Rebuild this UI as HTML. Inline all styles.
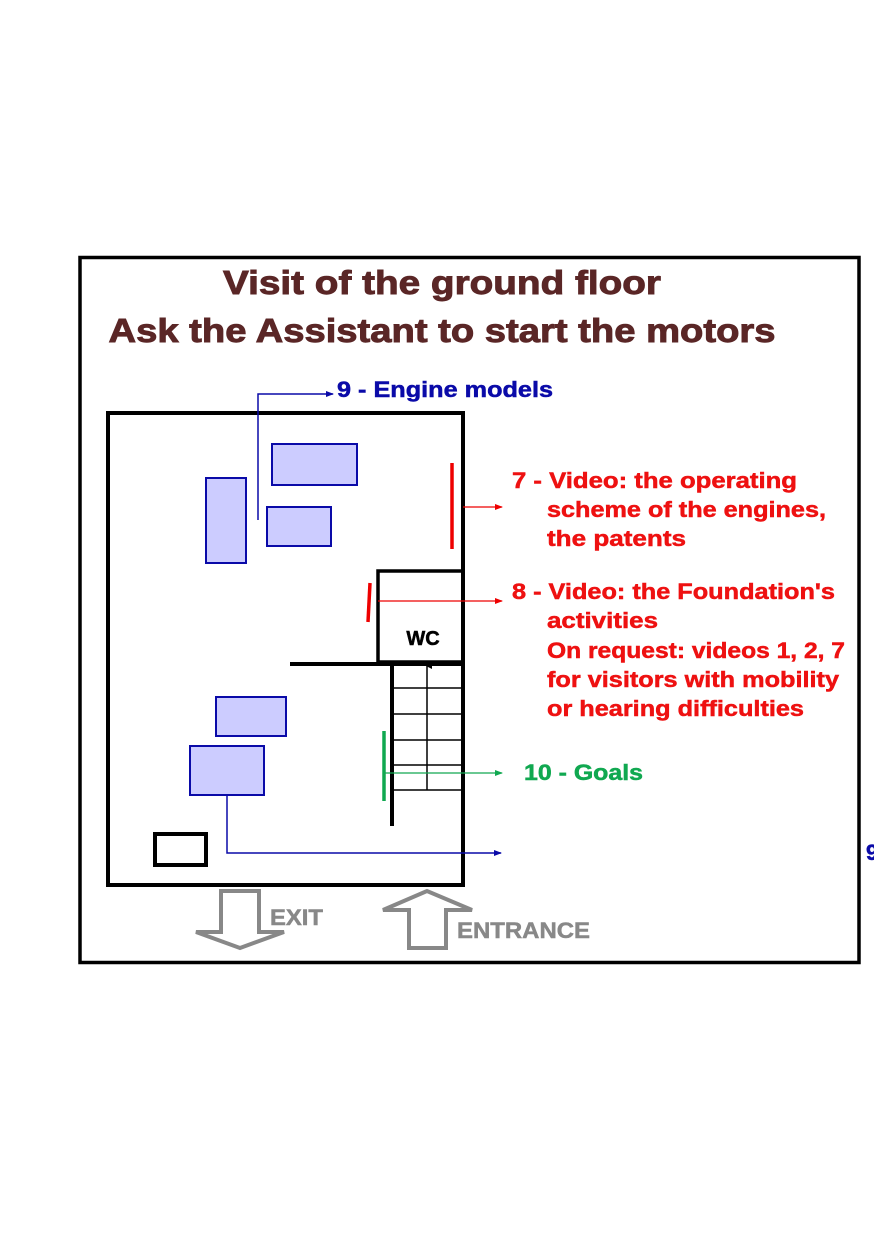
<!DOCTYPE html>
<html><head><meta charset="utf-8"><style>
html,body{margin:0;padding:0;background:#fff;}
svg{display:block;}
text{font-family:"Liberation Sans",sans-serif;font-weight:bold;}
</style></head><body>
<svg width="874" height="1240" viewBox="0 0 874 1240" xmlns="http://www.w3.org/2000/svg">
<defs>
<marker id="ar" markerWidth="8" markerHeight="6" refX="7" refY="3" orient="auto" markerUnits="userSpaceOnUse"><path d="M0,0 L8,3 L0,6 z" fill="#e00"/></marker>
<marker id="ab" markerWidth="8" markerHeight="6" refX="7" refY="3" orient="auto" markerUnits="userSpaceOnUse"><path d="M0,0 L8,3 L0,6 z" fill="#0a0aa8"/></marker>
<marker id="ag" markerWidth="8" markerHeight="6" refX="7" refY="3" orient="auto" markerUnits="userSpaceOnUse"><path d="M0,0 L8,3 L0,6 z" fill="#10a850"/></marker>
<marker id="ak" markerWidth="6" markerHeight="6" refX="3" refY="1" orient="auto" markerUnits="userSpaceOnUse"><path d="M0,6 L3,0 L6,6 z" fill="#000"/></marker>
</defs>
<rect x="80" y="257.5" width="779" height="705" fill="none" stroke="#000" stroke-width="3.5"/>
<g fill="#5a2626" stroke="#5a2626" stroke-width="0.9">
<text x="442" y="294" font-size="33" text-anchor="middle" textLength="438" lengthAdjust="spacingAndGlyphs">Visit of the ground floor</text>
<text x="442" y="342" font-size="33" text-anchor="middle" textLength="667" lengthAdjust="spacingAndGlyphs">Ask the Assistant to start the motors</text>
</g>
<rect x="108" y="413" width="355" height="472" fill="none" stroke="#000" stroke-width="4"/>
<g fill="#ccccff" stroke="#0a0aa8" stroke-width="2">
<rect x="206" y="478" width="40" height="85"/>
<rect x="272" y="444" width="85" height="41"/>
<rect x="267" y="507" width="64" height="39"/>
<rect x="216" y="697" width="70" height="39"/>
<rect x="190" y="746" width="74" height="49"/>
</g>
<rect x="155" y="834" width="51" height="31" fill="none" stroke="#000" stroke-width="4"/>
<rect x="378" y="571" width="85" height="91" fill="none" stroke="#000" stroke-width="3.5"/>
<text x="423" y="645" font-size="20" text-anchor="middle" fill="#000" stroke="#000" stroke-width="0.5">WC</text>
<line x1="290" y1="664" x2="463" y2="664" stroke="#000" stroke-width="4"/>
<line x1="392" y1="664" x2="392" y2="826" stroke="#000" stroke-width="4"/>
<g stroke="#000" stroke-width="1.5">
<line x1="392" y1="688" x2="463" y2="688"/>
<line x1="392" y1="714" x2="463" y2="714"/>
<line x1="392" y1="740" x2="463" y2="740"/>
<line x1="392" y1="765" x2="463" y2="765"/>
<line x1="392" y1="790" x2="463" y2="790"/>
<line x1="427" y1="790" x2="427" y2="666" marker-end="url(#ak)"/>
</g>
<line x1="452" y1="463" x2="452" y2="549" stroke="#e00" stroke-width="3.5"/>
<line x1="463" y1="507" x2="502" y2="507" stroke="#e00" stroke-width="1.3" marker-end="url(#ar)"/>
<line x1="370" y1="583" x2="368" y2="622" stroke="#e00" stroke-width="3.5"/>
<line x1="378" y1="601" x2="502" y2="601" stroke="#e00" stroke-width="1.3" marker-end="url(#ar)"/>
<line x1="384" y1="731" x2="384" y2="801" stroke="#10a850" stroke-width="3.5"/>
<line x1="384" y1="773" x2="502" y2="773" stroke="#10a850" stroke-width="1.3" marker-end="url(#ag)"/>
<polyline points="227,795 227,853 501,853" fill="none" stroke="#0a0aa8" stroke-width="1.5" marker-end="url(#ab)"/>
<polyline points="258,520 258,394 333,394" fill="none" stroke="#0a0aa8" stroke-width="1.5" marker-end="url(#ab)"/>
<g fill="#0a0aa8" stroke="#0a0aa8" stroke-width="0.5">
<text x="866" y="860" font-size="22">9</text>
<text x="337" y="397" font-size="22" textLength="216" lengthAdjust="spacingAndGlyphs">9 - Engine models</text>
</g>
<g fill="#ee1111" stroke="#ee1111" stroke-width="0.5" font-size="22">
<text x="512" y="488" textLength="285" lengthAdjust="spacingAndGlyphs">7 - Video: the operating</text>
<text x="547" y="517" textLength="279" lengthAdjust="spacingAndGlyphs">scheme of the engines,</text>
<text x="547" y="546" textLength="139" lengthAdjust="spacingAndGlyphs">the patents</text>
<text x="512" y="599" textLength="323" lengthAdjust="spacingAndGlyphs">8 - Video: the Foundation's</text>
<text x="547" y="628" textLength="111" lengthAdjust="spacingAndGlyphs">activities</text>
<text x="547" y="658" textLength="298" lengthAdjust="spacingAndGlyphs">On request: videos 1, 2, 7</text>
<text x="547" y="687" textLength="292" lengthAdjust="spacingAndGlyphs">for visitors with mobility</text>
<text x="547" y="716" textLength="257" lengthAdjust="spacingAndGlyphs">or hearing difficulties</text>
</g>
<text x="524" y="780" fill="#10a850" stroke="#10a850" stroke-width="0.5" font-size="22" textLength="119" lengthAdjust="spacingAndGlyphs">10 - Goals</text>
<path d="M221,891 L259,891 L259,932 L284,932 L240,948 L196,932 L221,932 Z" fill="none" stroke="#888" stroke-width="4" stroke-linejoin="miter"/>
<path d="M409,948 L446,948 L446,910 L472,910 L427,891 L383,910 L409,910 Z" fill="none" stroke="#888" stroke-width="4" stroke-linejoin="miter"/>
<g fill="#888" stroke="#888" stroke-width="0.5">
<text x="270" y="925" font-size="22" textLength="53" lengthAdjust="spacingAndGlyphs">EXIT</text>
<text x="457" y="938" font-size="22" textLength="133" lengthAdjust="spacingAndGlyphs">ENTRANCE</text>
</g>
</svg>
</body></html>
